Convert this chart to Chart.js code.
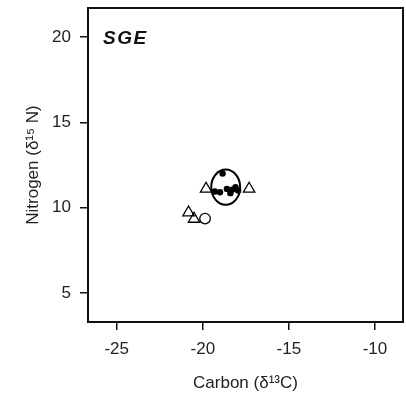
<!DOCTYPE html>
<html>
<head>
<meta charset="utf-8">
<script src="https://cdn.jsdelivr.net/npm/chart.js@4/dist/chart.umd.min.js"></script>
<style>
html,body{margin:0;padding:0;background:#fff;}
#wrap{width:406px;height:400px;}
</style>
</head>
<body>
<div id="wrap"><canvas id="c" width="406" height="400"></canvas></div>
<script>
// ---- data ----
const panelLabel = "SGE";
const xTickValues = [-25, -20, -15, -10];
const yTickValues = [5, 10, 15, 20];
const xRange = [-26.67, -8.37];
const yRange = [3.3, 21.7];

// filled circles (carbon, nitrogen)
const filledX = [-18.85, -19.3, -19.0, -18.6, -18.4, -18.3, -18.1, -17.95];
const filledY = [12.0, 10.95, 10.9, 11.1, 10.85, 11.05, 11.2, 11.0];

// open triangles
const triX = [-19.81, -17.31, -20.83, -20.51];
const triY = [11.1, 11.1, 9.71, 9.34];

// open circle
const openX = [-19.87];
const openY = [9.36];

// ellipse around filled points: centre x, centre y, half-width (x units), half-height (y units)
const ellipseCentre = [-18.67, 11.2];
const ellipseRadii = [0.84, 1.03];

const xTitle = "Carbon (δ¹³C)";
const yTitle = "Nitrogen (δ¹⁵ N)";

const FONT = "'Liberation Sans', Arial, Helvetica, sans-serif";
const toPts = (xs, ys) => xs.map((x, i) => ({x: x, y: ys[i]}));

const framePlugin = {
  id: 'frame',
  beforeDatasetsDraw(chart) {
    const {ctx, scales: {x, y}} = chart;
    const cx = x.getPixelForValue(ellipseCentre[0]);
    const cy = y.getPixelForValue(ellipseCentre[1]);
    const rx = Math.abs(x.getPixelForValue(ellipseCentre[0] + ellipseRadii[0]) - cx);
    const ry = Math.abs(y.getPixelForValue(ellipseCentre[1] + ellipseRadii[1]) - cy);
    ctx.save();
    ctx.beginPath();
    ctx.ellipse(cx, cy, rx, ry, 0, 0, Math.PI * 2);
    ctx.lineWidth = 2;
    ctx.strokeStyle = '#000';
    ctx.stroke();
    ctx.restore();
  },
  afterDraw(chart) {
    const {ctx, chartArea: a} = chart;
    ctx.save();
    ctx.lineWidth = 2;
    ctx.strokeStyle = '#111';
    ctx.strokeRect(a.left, a.top, a.right - a.left, a.bottom - a.top);
    ctx.fillStyle = '#111';
    ctx.font = "italic bold 19px " + FONT;
    try { ctx.letterSpacing = '1.5px'; } catch (e) {}
    ctx.textBaseline = 'middle';
    ctx.textAlign = 'left';
    ctx.fillText(panelLabel, a.left + 15, a.top + 30.5);
    ctx.restore();
  }
};

new Chart(document.getElementById('c'), {
  type: 'scatter',
  data: {
    datasets: [
      {
        label: 'filled',
        data: toPts(filledX, filledY),
        pointStyle: 'circle',
        pointRadius: 3.2,
        backgroundColor: '#000',
        borderColor: '#000',
        borderWidth: 0
      },
      {
        label: 'triangles',
        data: toPts(triX, triY),
        pointStyle: 'triangle',
        pointRadius: 6.6,
        backgroundColor: 'rgba(255,255,255,0)',
        borderColor: '#000',
        borderWidth: 1.3
      },
      {
        label: 'open circle',
        data: toPts(openX, openY),
        pointStyle: 'circle',
        pointRadius: 5.3,
        backgroundColor: 'rgba(255,255,255,0)',
        borderColor: '#000',
        borderWidth: 1.3
      }
    ]
  },
  options: {
    responsive: false,
    devicePixelRatio: 1,
    animation: false,
    layout: {autoPadding: false, padding: {top: 8, right: 3, left: 0, bottom: 0}},
    plugins: {legend: {display: false}, tooltip: {enabled: false}},
    scales: {
      x: {
        type: 'linear',
        min: xRange[0],
        max: xRange[1],
        afterBuildTicks: s => { s.ticks = xTickValues.map(v => ({value: v})); },
        afterFit: s => { s.height = 78; s.paddingLeft = 0; s.paddingRight = 0; },
        border: {display: false},
        grid: {drawOnChartArea: false, drawTicks: true, tickLength: 8, color: '#111', lineWidth: 1.5},
        ticks: {font: {size: 17, family: FONT}, color: '#222', padding: 9, maxRotation: 0,
                callback: v => String(v)},
        title: {display: true, text: xTitle, font: {size: 17, family: FONT}, color: '#222',
                padding: {top: 0, bottom: 6}}
      },
      y: {
        type: 'linear',
        min: yRange[0],
        max: yRange[1],
        afterBuildTicks: s => { s.ticks = yTickValues.map(v => ({value: v})); },
        afterFit: s => { s.width = 88; s.paddingTop = 0; s.paddingBottom = 0; },
        border: {display: false},
        grid: {drawOnChartArea: false, drawTicks: true, tickLength: 8, color: '#111', lineWidth: 1.5},
        ticks: {font: {size: 17, family: FONT}, color: '#222', padding: 9,
                callback: v => String(v)},
        title: {display: true, text: yTitle, font: {size: 17, family: FONT}, color: '#222',
                padding: {top: 23, bottom: 0}}
      }
    }
  },
  plugins: [framePlugin]
});
</script>
</body>
</html>
